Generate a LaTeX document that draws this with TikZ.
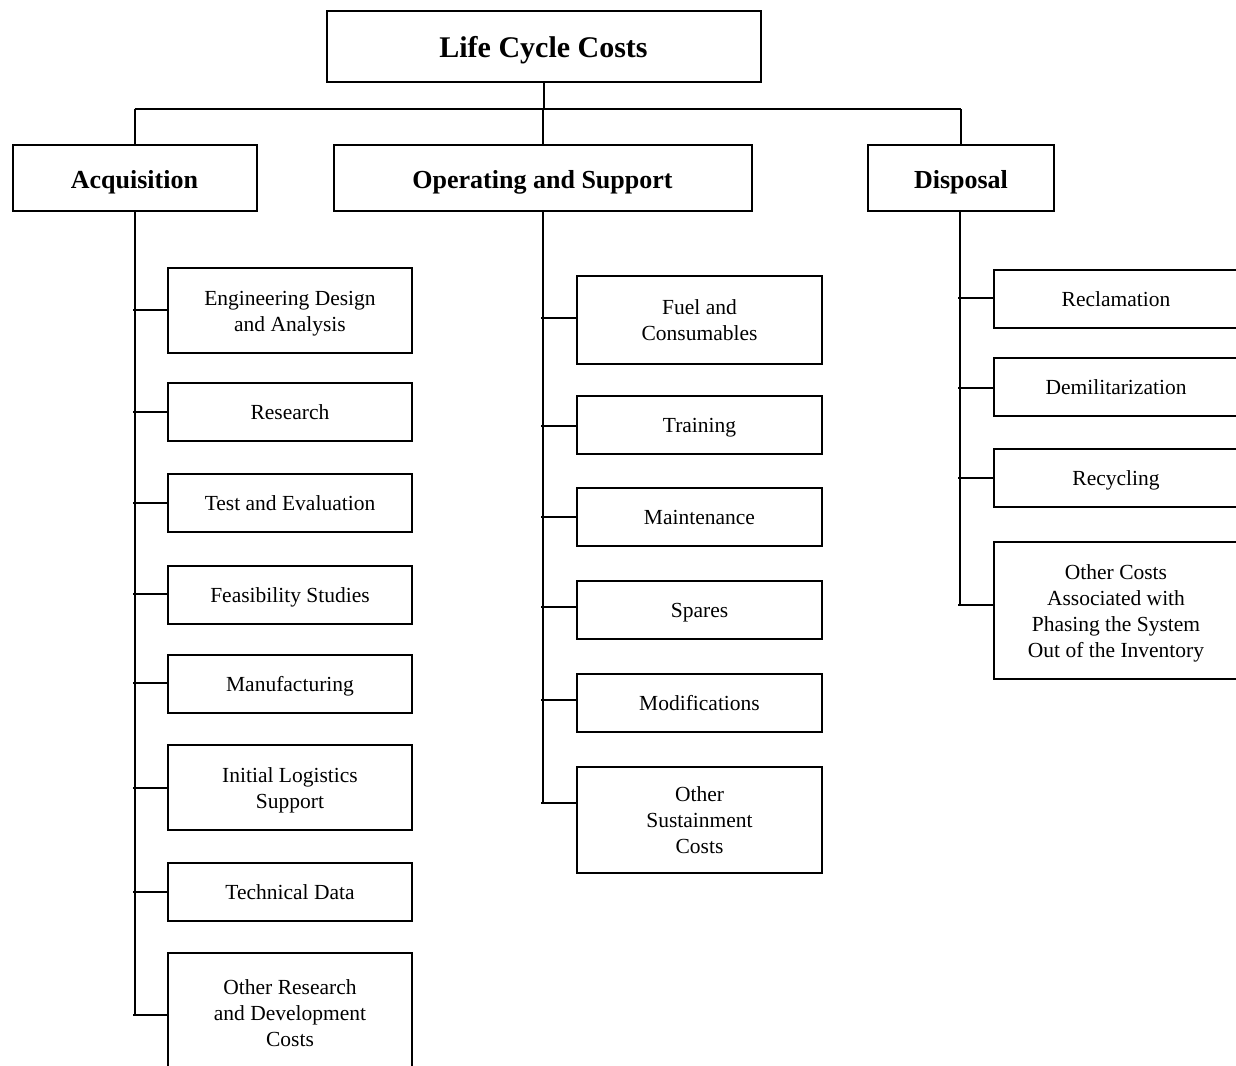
\documentclass[tikz,border=0pt]{standalone}
\usepackage{fontspec}
\setmainfont{Liberation Serif}
\newcommand\btxt[1]{\raisebox{-2.5pt}[\height][\depth]{\begin{tabular}{@{}c@{}}#1\end{tabular}}}
\begin{document}
\begin{tikzpicture}[x=1pt,y=-1pt,line width=2pt,
  box/.style={draw,inner sep=0pt,font=\fontsize{21.5}{26}\selectfont},
  head/.style={draw,inner sep=0pt,text height=20.5pt,text depth=0pt,font=\bfseries\fontsize{26}{31}\selectfont},
  ttl/.style={draw,inner sep=0pt,text height=21.8pt,text depth=0pt,font=\bfseries\fontsize{30}{36}\selectfont}]
\useasboundingbox (0,0) rectangle (1236,1065);
\fill[white] (0,0) rectangle (1236,1065);
\clip (0,0) rectangle (1236,1065);

% title and headers
\node[ttl,minimum width=434pt,minimum height=71pt] (lcc) at (543.5,46.5) {Life Cycle Costs};
\node[head,minimum width=244pt,minimum height=66pt] (acq) at (134.5,178) {Acquisition};
\node[head,minimum width=418pt,minimum height=66pt] (ops) at (542.5,178) {Operating and Support};
\node[head,minimum width=186pt,minimum height=66pt] (dis) at (961,178) {Disposal};

\coordinate (jM) at (543.5,109);
\draw (lcc.south) -- (lcc.south |- jM);
\draw (acq.north |- jM) -- (dis.north |- jM);
\draw (acq.north |- jM) -- (acq.north);
\draw (ops.north |- jM) -- (ops.north);
\draw (dis.north |- jM) -- (dis.north);

% acquisition children
\node[box,minimum width=244pt,minimum height=85pt] (a1) at (290,310.5) {\btxt{Engineering Design\\and Analysis}};
\node[box,minimum width=244pt,minimum height=58pt] (a2) at (290,412) {\btxt{Research}};
\node[box,minimum width=244pt,minimum height=58pt] (a3) at (290,503) {\btxt{Test and Evaluation}};
\node[box,minimum width=244pt,minimum height=58pt] (a4) at (290,595) {\btxt{Feasibility Studies}};
\node[box,minimum width=244pt,minimum height=58pt] (a5) at (290,684) {\btxt{Manufacturing}};
\node[box,minimum width=244pt,minimum height=85pt] (a6) at (290,787.5) {\btxt{Initial Logistics\\Support}};
\node[box,minimum width=244pt,minimum height=58pt] (a7) at (290,892) {\btxt{Technical Data}};
\node[box,minimum width=244pt,minimum height=120pt] (a8) at (290,1013) {\btxt{Other Research\\and Development\\Costs}};

\coordinate (sa1) at (133,310);
\coordinate (sa2) at (133,412);
\coordinate (sa3) at (133,503);
\coordinate (sa4) at (133,594);
\coordinate (sa5) at (133,683);
\coordinate (sa6) at (133,788);
\coordinate (sa7) at (133,892);
\coordinate (sa8) at (133,1015);
\draw (acq.south) -- (acq.south |- sa8);
\foreach \i in {1,...,8} {\draw (sa\i) -- (sa\i -| a\i.west);}

% operating children
\node[box,minimum width=245pt,minimum height=88pt] (o1) at (699.5,320) {\btxt{Fuel and\\Consumables}};
\node[box,minimum width=245pt,minimum height=58pt] (o2) at (699.5,425) {\btxt{Training}};
\node[box,minimum width=245pt,minimum height=58pt] (o3) at (699.5,517) {\btxt{Maintenance}};
\node[box,minimum width=245pt,minimum height=58pt] (o4) at (699.5,610) {\btxt{Spares}};
\node[box,minimum width=245pt,minimum height=58pt] (o5) at (699.5,703) {\btxt{Modifications}};
\node[box,minimum width=245pt,minimum height=106pt] (o6) at (699.5,820) {\btxt{Other\\Sustainment\\Costs}};

\coordinate (so1) at (541,318);
\coordinate (so2) at (541,426);
\coordinate (so3) at (541,517);
\coordinate (so4) at (541,607);
\coordinate (so5) at (541,700);
\coordinate (so6) at (541,803);
\draw (ops.south) -- (ops.south |- so6);
\foreach \i in {1,...,6} {\draw (so\i) -- (so\i -| o\i.west);}

% disposal children
\node[box,minimum width=244pt,minimum height=58pt] (d1) at (1116,299) {\btxt{Reclamation}};
\node[box,minimum width=244pt,minimum height=58pt] (d2) at (1116,387) {\btxt{Demilitarization}};
\node[box,minimum width=244pt,minimum height=58pt] (d3) at (1116,478) {\btxt{Recycling}};
\node[box,minimum width=244pt,minimum height=137pt] (d4) at (1116,610.5) {\btxt{Other Costs\\Associated with\\Phasing the System\\Out of the Inventory}};

\coordinate (sd1) at (958,298);
\coordinate (sd2) at (958,388);
\coordinate (sd3) at (958,478);
\coordinate (sd4) at (958,605);
\coordinate (dtop) at (960,211);
\draw (dtop) -- (dtop |- sd4);
\foreach \i in {1,...,4} {\draw (sd\i) -- (sd\i -| d\i.west);}
\end{tikzpicture}
\end{document}
